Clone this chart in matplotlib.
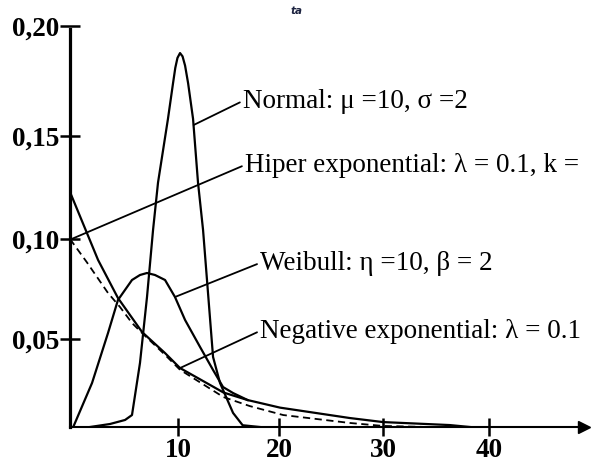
import numpy as np
import matplotlib
matplotlib.use("Agg")
import matplotlib.pyplot as plt

# values (x = time, y = density)
normal_x = [1.85, 3.7, 5.1, 5.74, 6.48, 7.13, 7.69, 8.15, 9.07, 9.54, 9.75, 9.95, 10.2,
            10.45, 10.7, 11.0, 11.49, 11.98, 12.48, 12.87, 13.47, 14.16, 15.45, 16.4, 18.1]
normal_y = [0, 0.0017, 0.004, 0.0068, 0.0364, 0.071, 0.1044, 0.1274, 0.1578, 0.174, 0.181, 0.1855, 0.1877,
            0.1862, 0.182, 0.174, 0.1578, 0.1274, 0.1044, 0.0795, 0.0398, 0.025, 0.008, 0.001, 0]

weibull_x = [0.3, 2.04, 3.52, 4.44, 5.74, 6.48, 7.13, 7.87, 8.8, 9.72, 10.7, 12.18, 13.47, 14.46, 15.45, 16.9]
weibull_y = [0, 0.025, 0.053, 0.0695, 0.0795, 0.082, 0.083, 0.082, 0.0795, 0.071, 0.0595, 0.0455, 0.0324, 0.0227, 0.0193, 0.0153]

hiper_x = [0, 2.6, 4.44, 6.67, 8.8, 10.2, 14.5, 16.9, 20.1, 26.8, 30, 36.3, 38.2]
hiper_y = [0.1228, 0.0895, 0.0705, 0.0535, 0.042, 0.0335, 0.0196, 0.0153, 0.011, 0.0051, 0.0028, 0.0011, 0]

negexp_x = [0, 1.57, 3.52, 4.63, 5.74, 6.67, 8.8, 10.2, 14.5, 17.1, 20.4, 26.8, 30, 34.2]
negexp_y = [0.1, 0.0883, 0.073, 0.066, 0.058, 0.053, 0.041, 0.0325, 0.017, 0.0119, 0.0068, 0.0023, 0.0006, 0]

x_ticks = [10, 20, 30, 40]
y_ticks = [0.05, 0.10, 0.15, 0.20]
y_ticklabels = ["0,05", "0,10", "0,15", "0,20"]

labels = ["Normal: \u03bc =10, \u03c3 =2",
          "Hiper exponential: \u03bb = 0.1, k =",
          "Weibull: \u03b7 =10, \u03b2 = 2",
          "Negative exponential: \u03bb = 0.1"]

# the hand drawn axes are not quite evenly spaced
XS = [-10, 0, 10, 20, 30, 40, 60]
XP = [-108, 0, 108, 209, 313, 419, 631]
YS = [-0.05, 0, 0.05, 0.10, 0.15, 0.20, 0.30]
YP = [-88, 0, 88, 188, 291, 401, 621]

plt.rcParams['font.family'] = ['Liberation Serif', 'DejaVu Serif']

W, H = 592, 461
fig = plt.figure(figsize=(W / 100, H / 100), dpi=100)
ax = fig.add_axes([70 / W, 34 / H, 514 / W, 401 / H])
ax.set_xscale('function', functions=(lambda v: np.interp(v, XS, XP), lambda v: np.interp(v, XP, XS)))
ax.set_yscale('function', functions=(lambda v: np.interp(v, YS, YP), lambda v: np.interp(v, YP, YS)))
ax.set_xlim(0, 48.96)
ax.set_ylim(0, 0.20)

lw = 1.6
ax.plot(normal_x, normal_y, color='black', lw=lw, solid_joinstyle='round')
ax.plot(weibull_x, weibull_y, color='black', lw=lw, solid_joinstyle='round')
ax.plot(hiper_x, hiper_y, color='black', lw=lw, solid_joinstyle='round')
ax.plot(negexp_x, negexp_y, color='black', lw=1.3, linestyle=(0, (4, 2.5)))

for sp in ['top', 'right']:
    ax.spines[sp].set_visible(False)
ax.spines['left'].set_linewidth(2.3)
ax.spines['left'].set_bounds(0, 0.1985)
ax.spines['bottom'].set_linewidth(1.5)
ax.plot(1, 0, '>', color='black', ms=9, transform=ax.transAxes, clip_on=False)

ax.set_xticks(x_ticks)
ax.set_xticklabels([str(t) for t in x_ticks])
ax.set_yticks(y_ticks)
ax.set_yticklabels(y_ticklabels)
ax.minorticks_off()
ax.tick_params(axis='y', direction='inout', length=15, width=1.8, pad=0, labelsize=19.5)
ax.tick_params(axis='x', direction='inout', length=13, width=1.8, pad=1.5, labelsize=19.5)
for t in ax.get_xticklabels() + ax.get_yticklabels():
    t.set_fontweight('bold')

# labels with leader lines
anchors = [(11.55, 0.155), (0.15, 0.10), (9.72, 0.071), (10.2, 0.0335)]
text_pos = [(16.4, 0.1659), (16.6, 0.1359), (18.1, 0.088), (18.1, 0.054)]
for lab, a, p in zip(labels, anchors, text_pos):
    ax.annotate(lab, xy=a, xytext=p, fontsize=19.5, va='center', ha='left',
                annotation_clip=False,
                arrowprops=dict(arrowstyle='-', lw=1.3, color='black',
                                shrinkA=0, shrinkB=0, relpos=(0, 0.5)))

fig.text(297 / W, 1 - 11 / H, 'ta', fontsize=7.5, fontstyle='italic', fontweight='bold',
         family='DejaVu Sans', color='#1c2340', ha='center', va='center')

fig.savefig('out.png', dpi=100)
